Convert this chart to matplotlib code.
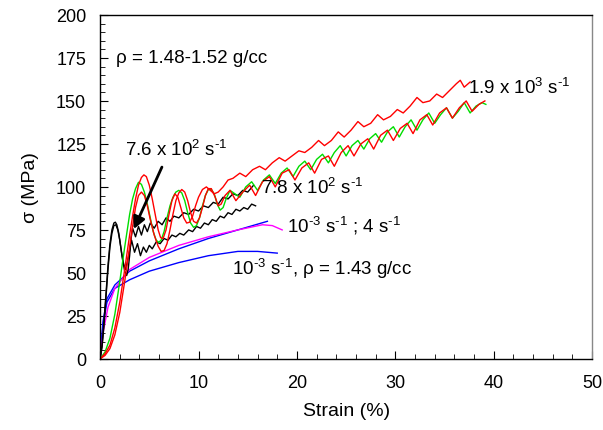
import matplotlib
matplotlib.use("Agg")
import matplotlib.pyplot as plt
from matplotlib.ticker import MultipleLocator

plt.rcParams['font.family'] = ['Liberation Sans', 'DejaVu Sans']
plt.rcParams['mathtext.fontset'] = 'custom'
plt.rcParams['mathtext.rm'] = 'Liberation Sans'
plt.rcParams['mathtext.it'] = 'Liberation Sans'

# strain (%) / stress (MPa)
red_hi_x = [0, 0.5, 1, 1.5, 2, 2.5, 3, 3.3, 3.6, 3.9, 4.2, 4.45, 4.7, 5.0, 5.3, 5.6, 5.9, 6.15,
            6.4, 6.7, 7.0, 7.3, 7.6, 7.9, 8.2, 8.5, 8.8, 9.1, 9.4, 9.7, 10.0, 10.4, 10.8, 11.2,
            11.6, 12.0, 12.5, 13, 13.5, 14.2, 14.8, 15.5, 16.2, 16.8, 17.5, 18.2,
            18.8, 19.5, 20.2, 20.8, 21.5, 22.2, 22.8, 23.5, 24.2, 24.8, 25.5, 26.2, 26.8, 27.5, 28.2,
            28.8, 29.5, 30.2, 30.8, 31.5, 32.2, 32.8, 33.5, 34.2, 34.8, 35.5, 36.2, 36.6, 37.0, 37.6]
red_hi_y = [0, 3, 8, 18, 33, 52, 72, 83, 93, 101, 105.5, 107, 106, 101, 93, 84, 75, 70.5,
            70, 75, 84, 92, 96, 94, 88, 82, 79, 79.5, 83, 89, 94, 98.5, 100, 98,
            96, 97, 100, 104, 105, 108, 106, 110, 112, 110, 114, 117,
            115, 118, 121, 120, 123, 127, 124, 127, 132, 129, 133, 138, 135, 137, 142,
            139, 141, 145, 143, 147, 152, 149, 150, 154, 152, 156, 160, 162, 158, 161]

red_lo_x = [0, 0.5, 1, 1.5, 2, 2.5, 3, 3.3, 3.6, 3.9, 4.2, 4.5, 4.8, 5.1, 5.5, 5.9, 6.2, 6.5,
            6.8, 7.1, 7.4, 7.7, 8.0, 8.3, 8.6, 8.9, 9.2, 9.5, 9.8, 10.1, 10.4, 10.7, 11.0, 11.3,
            11.7, 12.0, 12.3, 12.7, 13.2, 13.8, 14.5, 15.2, 15.8, 16.5, 17.2, 17.8,
            18.5, 19.2, 19.8, 20.5, 21.2, 21.8, 22.5, 23.2, 23.8, 24.5, 25.2, 25.8, 26.5, 27.2, 27.8,
            28.5, 29.2, 29.8, 30.5, 31.2, 31.8, 32.5, 33.2, 33.8, 34.5, 35.2, 35.8, 36.5, 37.2, 37.8,
            38.5, 39.1]
red_lo_y = [0, 2, 6, 14, 27, 45, 65, 77, 88, 95, 97, 95, 89, 81, 72, 65.5, 62.5, 63,
            67, 75, 84, 92, 96.5, 98.5, 97, 92, 85, 80, 79, 82, 88, 95, 99, 99,
            94, 89, 90, 95, 98, 92, 97, 101, 95, 103, 106, 100,
            108, 110, 104, 111, 114, 108, 116, 118, 112, 120, 124, 118, 125, 128, 122,
            130, 133, 127, 134, 137, 131, 139, 142, 136, 143, 146, 140, 146, 150, 144,
            148, 150]

green_x = [0, 0.5, 1, 1.5, 2, 2.5, 3, 3.3, 3.6, 3.9, 4.2, 4.5, 4.8, 5.1, 5.4, 5.7, 5.95, 6.2,
           6.5, 6.8, 7.1, 7.4, 7.7, 8.0, 8.3, 8.6, 8.9, 9.2, 9.5, 9.8, 10.1, 10.4, 10.7, 11.0,
           11.3, 11.6, 11.9, 12.2, 12.5, 12.8, 13.2, 13.7, 14.2, 14.8, 15.4, 16.0, 16.6, 17.2,
           17.8, 18.4, 19.0, 19.6, 20.2, 20.8, 21.4, 22.0, 22.6, 23.2, 23.8, 24.4, 25.0, 25.6, 26.2,
           26.8, 27.4, 28.0, 28.6, 29.2, 29.8, 30.4, 31.0, 31.6, 32.2, 32.8, 33.4, 34.0, 34.6, 35.2,
           35.8, 36.4, 37.0, 37.6, 38.2, 38.8, 39.2]
green_y = [0, 4, 12, 26, 45, 65, 84, 93, 99, 102.7, 101.5, 97, 90, 82, 74, 69, 67.8, 69,
           74, 82, 89, 94, 97, 98, 96.5, 92, 85, 79, 76.5, 77.5, 82, 89, 95, 98.5,
           98.5, 96, 90, 86.5, 88, 93, 98, 96, 94, 100, 103, 98, 104, 107,
           102, 108, 111, 106, 112, 115, 110, 116, 119, 114, 120, 124, 118, 124, 127,
           122, 128, 131, 126, 132, 135, 129, 135, 139, 133, 139, 143, 137, 142, 146,
           140, 144, 149, 143, 147, 149, 148]

black_hi_x = [0, 0.2, 0.4, 0.6, 0.8, 1.0, 1.2, 1.4, 1.55, 1.7, 1.9, 2.1, 2.3, 2.5, 2.7, 2.85,
              3.0, 3.15, 3.3, 3.6, 3.9, 4.2, 4.5, 4.8, 5.1, 5.5, 5.9, 6.3, 6.7, 7.1, 7.5, 8.0,
              8.5, 9.0, 9.5, 10.0, 10.5, 11.0, 11.5, 12.0, 12.5, 13.0, 13.5, 14.0, 14.5, 15.0, 15.6]
black_hi_y = [0, 8, 22, 38, 54, 67, 75, 79, 79.5, 78, 73, 65, 57, 51, 48.5, 52,
              60, 70, 76, 71, 77, 72, 78, 74, 79, 76, 80, 78, 82, 80, 83, 82,
              85, 84, 87, 86, 89, 88, 91, 90, 94, 93, 96, 95, 98, 97, 101]

black_lo_x = [0, 0.2, 0.4, 0.6, 0.8, 1.0, 1.2, 1.4, 1.6, 1.8, 2.0, 2.2, 2.4, 2.6, 2.9, 3.2,
              3.5, 3.8, 4.1, 4.4, 4.7, 5.0, 5.3, 5.7, 6.1, 6.5, 6.9, 7.3, 7.7, 8.1, 8.5, 9.0,
              9.4, 9.8, 10.2, 10.6, 11.0, 11.4, 11.8, 12.2, 12.6, 13.0, 13.4, 13.8, 14.2, 14.6,
              15.0, 15.4, 15.8]
black_lo_y = [0, 7, 20, 36, 52, 65, 73, 77.5, 78, 75, 69, 61, 55, 52, 60, 69,
              62, 67, 60, 65, 62, 66, 64, 68, 67, 70, 69, 72, 71, 73, 72, 75,
              74, 77, 76, 79, 78, 81, 80, 83, 82, 85, 84, 87, 86, 88,
              87, 90, 89]

magenta_x = [0, 0.3, 0.8, 1.5, 3, 5, 8, 11, 14, 16.5, 17.5, 18.5]
magenta_y = [0, 15, 30, 41, 52, 59, 66, 71, 75, 78, 77.5, 75]

blue_hi_x = [0, 0.3, 0.7, 1.5, 3, 5, 8, 11, 14, 17]
blue_hi_y = [0, 22, 35, 43, 51, 57, 64, 70, 75, 80]

blue_lo_x = [0, 0.3, 0.7, 1.5, 3, 5, 8, 11, 14, 16, 18]
blue_lo_y = [0, 20, 33, 41, 46, 51, 56, 60, 62.5, 62.5, 61.5]

fig = plt.figure(figsize=(6.03, 4.31), dpi=100)
ax = fig.add_axes([0.166, 0.165, 0.816, 0.798])

lw = 1.0
ax.plot(blue_lo_x, blue_lo_y, color='blue', lw=lw)
ax.plot(blue_hi_x, blue_hi_y, color='blue', lw=lw)
ax.plot(magenta_x, magenta_y, color='magenta', lw=lw)
ax.plot(black_lo_x, black_lo_y, color='black', lw=lw)
ax.plot(black_hi_x, black_hi_y, color='black', lw=lw)
ax.plot(green_x, green_y, color='#00dd00', lw=lw)
ax.plot(red_lo_x, red_lo_y, color='red', lw=lw)
ax.plot(red_hi_x, red_hi_y, color='red', lw=lw)

ax.set_xlim(0, 50)
ax.set_ylim(0, 200)
ax.xaxis.set_major_locator(MultipleLocator(10))
ax.xaxis.set_minor_locator(MultipleLocator(2))
ax.yaxis.set_major_locator(MultipleLocator(25))
ax.yaxis.set_minor_locator(MultipleLocator(5))
ax.tick_params(which='both', direction='in', top=False, right=False, labelsize=13)
ax.tick_params(axis='x', pad=11)
ax.tick_params(axis='y', pad=10)
ax.tick_params(which='major', length=6)
ax.tick_params(which='minor', length=3.5)
ax.spines['right'].set_color('#888888')
for s in ax.spines.values():
    s.set_linewidth(1.0)

ax.set_xlabel('Strain (%)', fontsize=14, labelpad=8)
ax.set_ylabel('σ (MPa)', fontsize=14, labelpad=12)

fs = 13.5
hy = '\u2010'
ax.text(1.6, 175.5, 'ρ = 1.48-1.52 g/cc', fontsize=fs, va='center')
ax.text(37.4, 158, r'1.9 x 10$^3$ s$^{' + hy + '1}$', fontsize=fs, va='center')
ax.text(2.5, 122, r'7.6 x 10$^2$ s$^{' + hy + '1}$', fontsize=fs, va='center')
ax.text(16.4, 100, r'7.8 x 10$^2$ s$^{' + hy + '1}$', fontsize=fs, va='center')
ax.text(19.0, 78, r'10$^{' + hy + '3}$ s$^{' + hy + '1}$ ; 4 s$^{' + hy + '1}$', fontsize=fs, va='center')
ax.text(13.4, 53, r'10$^{' + hy + '3}$ s$^{' + hy + '1}$, ρ = 1.43 g/cc', fontsize=fs, va='center')
ax.annotate('', xy=(3.3, 74), xytext=(6.4, 113),
            arrowprops=dict(arrowstyle='-|>', color='black', lw=2.0, mutation_scale=18))

fig.savefig('out.png', dpi=100)
